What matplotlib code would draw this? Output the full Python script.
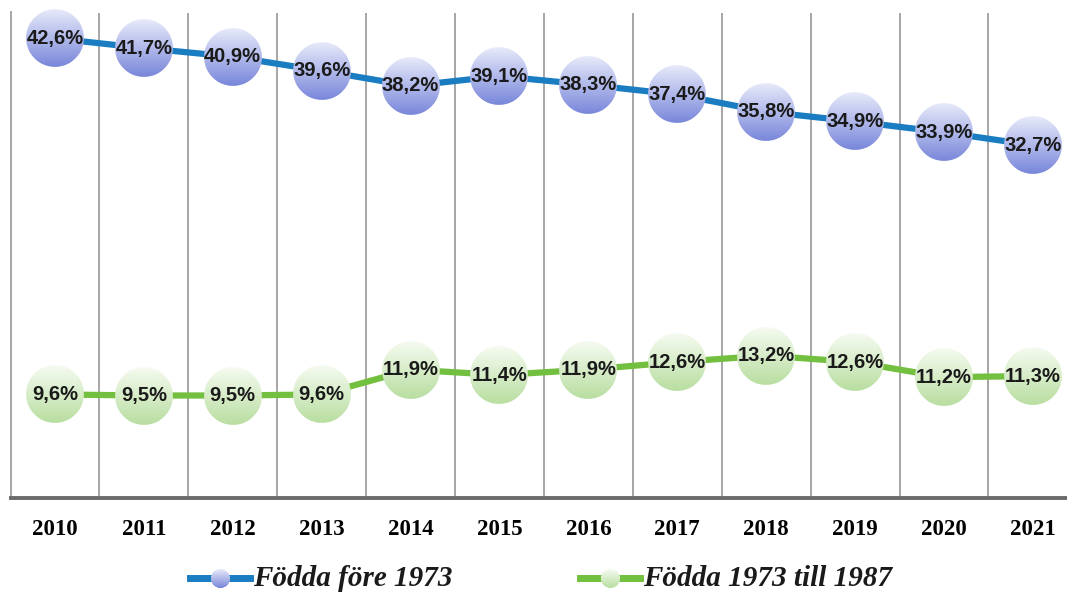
import numpy as np
import matplotlib
matplotlib.use("Agg")
import matplotlib.pyplot as plt
from matplotlib.offsetbox import OffsetImage, AnnotationBbox
from matplotlib.lines import Line2D

years = ["2010", "2011", "2012", "2013", "2014", "2015",
         "2016", "2017", "2018", "2019", "2020", "2021"]
fodda_fore_1973 = [42.6, 41.7, 40.9, 39.6, 38.2, 39.1, 38.3, 37.4, 35.8, 34.9, 33.9, 32.7]
fodda_1973_1987 = [9.6, 9.5, 9.5, 9.6, 11.9, 11.4, 11.9, 12.6, 13.2, 12.6, 11.2, 11.3]
series_names = ["Födda före 1973", "Födda 1973 till 1987"]

DPI = 100
W, H = 1067, 594


def bubble(top, bottom, size=120):
    """RGBA image of a round marker with a vertical colour gradient."""
    yy, xx = np.mgrid[0:size, 0:size] + 0.5
    c = size / 2
    r = np.hypot(xx - c, yy - c)
    alpha = np.clip((c - 1 - r) / 1.5 + 1, 0, 1)
    t = (yy / size)[..., None]
    top = np.array(top) / 255.0
    bottom = np.array(bottom) / 255.0
    rgb = top * (1 - t) + bottom * t
    img = np.dstack([rgb, alpha])
    return img


blue_img = bubble((232, 235, 250), (120, 134, 218))
green_img = bubble((246, 251, 241), (184, 222, 160))

fig = plt.figure(figsize=(W / DPI, H / DPI), dpi=DPI)
x0, x1 = 10.5, 10.5 + 12 * 88.9
y_bottom, y_top = 498, 12.5
ax = fig.add_axes([x0 / W, (H - y_bottom) / H, (x1 - x0) / W, (y_bottom - y_top) / H])

x = np.arange(len(years))
ax.set_xlim(-0.5, len(years) - 0.5)
ax.set_ylim(0, 45)

# vertical separators between categories
for b in np.arange(0.5, len(years) - 0.5, 1.0):
    ax.axvline(b, color="#a6a6a6", lw=1.4, zorder=1)

for s in ["top", "right"]:
    ax.spines[s].set_visible(False)
ax.spines["left"].set_color("#a6a6a6")
ax.spines["left"].set_linewidth(1.4)
ax.spines["bottom"].set_color("#6a6a6a")
ax.spines["bottom"].set_linewidth(2.8)
ax.set_yticks([])
ax.set_xticks(x)
ax.set_xticklabels(years, fontfamily="Liberation Serif", fontweight="bold", fontsize=16.5)
ax.tick_params(axis="x", length=0, pad=15)

line_colors = ["#1a7cc1", "#73bf3f"]
imgs = [blue_img, green_img]
marker_px = 58
zoom = marker_px / blue_img.shape[0] * 72 / DPI

for vals, col, img in zip([fodda_fore_1973, fodda_1973_1987], line_colors, imgs):
    ax.plot(x, vals, color=col, lw=4.5, zorder=3, clip_on=False, solid_capstyle="butt")
    for xi, v in zip(x, vals):
        ab = AnnotationBbox(OffsetImage(img, zoom=zoom), (xi, v), frameon=False,
                            pad=0, zorder=4, annotation_clip=False)
        ax.add_artist(ab)
        ax.text(xi, v, f"{v:.1f}%".replace(".", ","), ha="center", va="center",
                fontfamily="Liberation Sans", fontweight="bold", fontsize=14.5,
                color="#1a1a1a", zorder=5, clip_on=False)

# legend drawn in figure coordinates
leg_y = 1 - 578 / H
legend_items = [(190, 250, 253), (580, 640, 643)]
for (lx0, lx1, tx), col, img, name in zip(legend_items, line_colors, imgs, series_names):
    fig.add_artist(Line2D([lx0 / W, lx1 / W], [leg_y, leg_y], color=col, lw=5,
                          transform=fig.transFigure))
    ab = AnnotationBbox(OffsetImage(img, zoom=19 / img.shape[0] * 72 / DPI),
                        ((lx0 + lx1) / 2 / W, leg_y), xycoords="figure fraction",
                        frameon=False, pad=0)
    fig.add_artist(ab)
    fig.text(tx / W, leg_y, name, ha="left", va="center",
             fontfamily="Liberation Serif", fontweight="bold", fontstyle="italic",
             fontsize=21, color="#1a1a1a")

fig.savefig("out.png", dpi=DPI)
